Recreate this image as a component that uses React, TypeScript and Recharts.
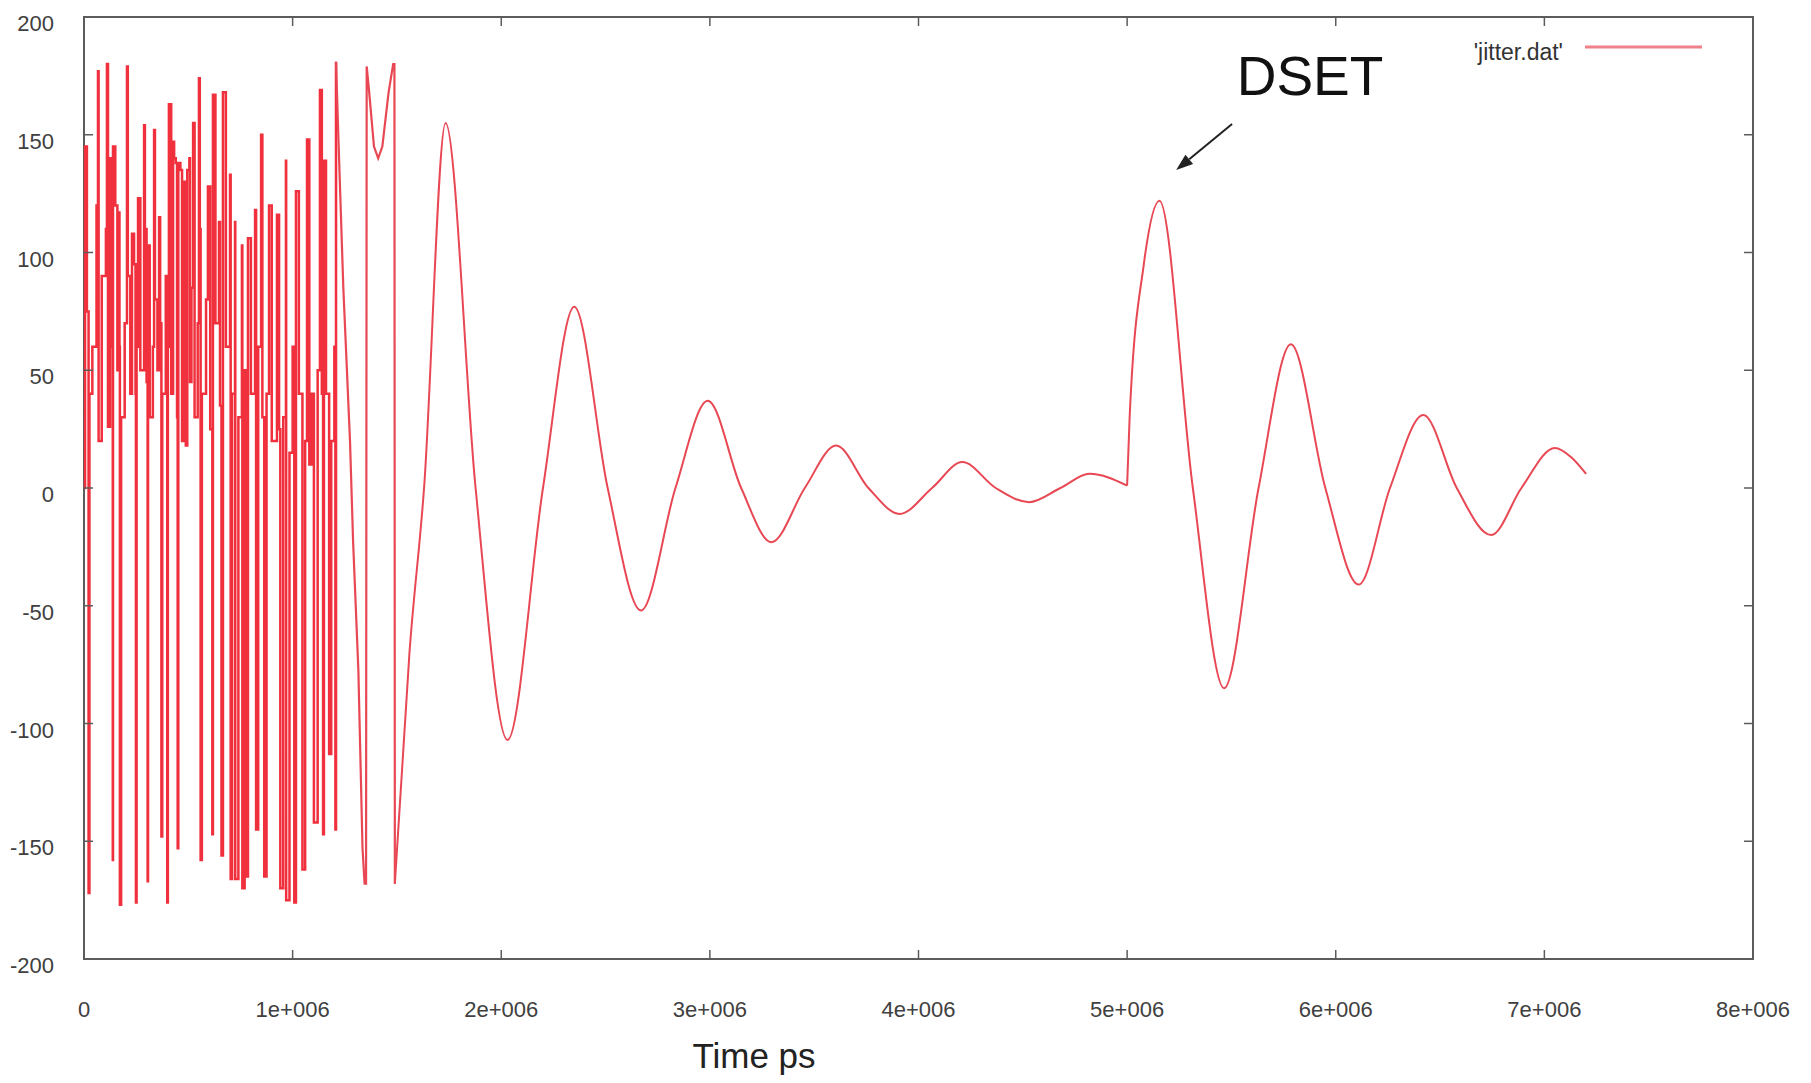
import { LineChart, Line, XAxis, YAxis, ReferenceArea, ReferenceLine } from "recharts";

// time is in units of 1e6 ps, jitter in ps
// the locking burst: phase wraps around +-180, read stroke by stroke
const burst: [number, number][] = [
  [0, 0], [0.003, 0], [0.005, 145], [0.012, 145], [0.014, 75], [0.02, 75],
  [0.022, -172], [0.026, 40], [0.04, 60], [0.06, 120], [0.067, 177], [0.07, 20],
  [0.085, 90], [0.105, 110], [0.11, 180], [0.115, 26], [0.125, 140], [0.135, 60],
  [0.138, -158], [0.139, 145], [0.15, 120], [0.16, 50], [0.168, 117], [0.17, 60],
  [0.172, -177], [0.178, 30], [0.195, 70], [0.206, 179], [0.21, 90], [0.222, 40],
  [0.23, 108], [0.24, 95], [0.247, 40], [0.249, -176], [0.252, 60], [0.259, 123],
  [0.27, 50], [0.288, 154], [0.292, 110], [0.3, 45], [0.305, -167], [0.307, 103],
  [0.315, 30], [0.33, 60], [0.336, 152], [0.34, 80], [0.352, 50], [0.36, 115],
  [0.365, 70], [0.371, -148], [0.375, 40], [0.392, 90], [0.399, -176], [0.402, 60],
  [0.407, 163], [0.418, 40], [0.427, 147], [0.432, 140], [0.44, 138], [0.446, 30],
  [0.449, -153], [0.452, 138], [0.462, 135], [0.47, 20], [0.476, 130], [0.488, 18],
  [0.495, 135], [0.505, 140], [0.508, 45], [0.515, 85], [0.523, 155], [0.53, 30],
  [0.545, 70], [0.551, 174], [0.555, 110], [0.559, -158], [0.565, 40], [0.585, 80],
  [0.594, 128], [0.605, 25], [0.615, -147], [0.618, 167], [0.63, 70], [0.647, 113],
  [0.652, 35], [0.659, -156], [0.666, 168], [0.68, 60], [0.7, 133], [0.703, -166],
  [0.71, 40], [0.724, 113], [0.725, -166], [0.74, 30], [0.757, 103], [0.759, -170],
  [0.77, 50], [0.781, -165], [0.786, 106], [0.8, 40], [0.82, 118], [0.825, -145],
  [0.835, 60], [0.849, 150], [0.855, 30], [0.864, -165], [0.875, 40], [0.887, 120],
  [0.9, 20], [0.925, 116], [0.935, 25], [0.941, -170], [0.955, 30], [0.968, 139],
  [0.969, -175], [0.985, 15], [1.0, 60], [1.008, -176], [1.016, 126], [1.03, 40],
  [1.047, -162], [1.06, 20], [1.069, 148], [1.08, 10], [1.09, 40], [1.102, -142],
  [1.12, 50], [1.131, 169], [1.14, 40], [1.146, -147], [1.15, 139], [1.16, 40],
  [1.175, -113], [1.185, 20], [1.2, 60], [1.205, -145], [1.208, 181],
];

// last two slips before the loop settles
const burstTail: [number, number][] = [
  [1.208, 181], [1.22, 147], [1.243, 85], [1.275, 20], [1.29, -23], [1.315, -77],
  [1.335, -153], [1.345, -168], [1.352, -168], [1.355, 179], [1.365, 170],
  [1.39, 145], [1.41, 140], [1.43, 145], [1.46, 168], [1.482, 180], [1.488, 180],
  [1.49, -168],
];

// first ring-down after lock
const ringdownA: [number, number][] = [
  [1.49, -168], [1.56, -70], [1.63, 0], [1.733, 155], [1.877, 0], [2.03, -107],
  [2.2, 0], [2.35, 77], [2.51, 0], [2.67, -52], [2.835, 0], [2.99, 37],
  [3.15, 0], [3.295, -23], [3.455, 0], [3.605, 18], [3.76, 0], [3.91, -11],
  [4.065, 0], [4.21, 11], [4.37, 0], [4.53, -6], [4.68, 0], [4.82, 6], [5.0, 1],
];

// ring-down after the DSET event
const ringdownB: [number, number][] = [
  [5.0, 1], [5.012, 30], [5.08, 95], [5.155, 122], [5.315, 0], [5.465, -85],
  [5.63, 0], [5.785, 61], [5.95, 0], [6.11, -41], [6.26, 0], [6.42, 31],
  [6.58, 0], [6.745, -20], [6.89, 0], [7.05, 17], [7.13, 13], [7.2, 6],
];

const xTicks = [0, 1, 2, 3, 4, 5, 6, 7, 8];
const yTicks = [-200, -150, -100, -50, 0, 50, 100, 150, 200];
const dsetArrow = [
  { x: 5.503, y: 154.6 },
  { x: 5.235, y: 135 },
];

const toRows = (pts: [number, number][]) => pts.map(([t, v]) => ({ t, v }));

const W = 1811;
const H = 1083;
const PLOT = { left: 84, right: 1753, top: 17, bottom: 959 };
const TICK_LEN = 9;
const FONT = '"Liberation Sans", Arial, sans-serif';
const GREY = "#5c5c5c";
const RED = "#f0303c";
const RED_SOFT = "#e84854";

function XTick({ x, payload }: any) {
  const v = payload.value;
  return (
    <g>
      <line x1={x} x2={x} y1={PLOT.bottom} y2={PLOT.bottom - TICK_LEN} stroke={GREY} strokeWidth={1.5} />
      <line x1={x} x2={x} y1={PLOT.top} y2={PLOT.top + TICK_LEN} stroke={GREY} strokeWidth={1.5} />
      <text x={x} y={1017} textAnchor="middle" fontSize={22} fill="#404040" fontFamily={FONT}>
        {v === 0 ? "0" : `${v}e+006`}
      </text>
    </g>
  );
}

function YTick({ y, payload }: any) {
  return (
    <g>
      <line x1={PLOT.left} x2={PLOT.left + TICK_LEN} y1={y} y2={y} stroke={GREY} strokeWidth={1.5} />
      <line x1={PLOT.right} x2={PLOT.right - TICK_LEN} y1={y} y2={y} stroke={GREY} strokeWidth={1.5} />
      <text x={54} y={y + 14} textAnchor="end" fontSize={22} fill="#404040" fontFamily={FONT}>
        {payload.value}
      </text>
    </g>
  );
}

function DsetArrow(props: any) {
  const { x1, y1, x2, y2 } = props;
  const dx = x2 - x1;
  const dy = y2 - y1;
  const len = Math.sqrt(dx * dx + dy * dy);
  const ux = dx / len;
  const uy = dy / len;
  const hl = 17;
  const hw = 6;
  const bx = x2 - ux * hl;
  const by = y2 - uy * hl;
  return (
    <g>
      <line x1={x1} y1={y1} x2={bx} y2={by} stroke="#222" strokeWidth={2} />
      <polygon
        points={`${x2},${y2} ${bx - uy * hw},${by + ux * hw} ${bx + uy * hw},${by - ux * hw}`}
        fill="#222"
      />
      <text x={x1 + 78} y={y1 - 29} textAnchor="middle" fontSize={55} fill="#111" fontFamily={FONT}>
        DSET
      </text>
    </g>
  );
}

export default function App() {
  return (
    <div style={{ position: "absolute", left: 0, top: 0, width: W, height: H, background: "#fff" }}>
      <LineChart
        width={W}
        height={H}
        margin={{ top: PLOT.top, right: W - PLOT.right, bottom: H - PLOT.bottom - 60, left: PLOT.left - 70 }}
      >
        <XAxis
          type="number"
          dataKey="t"
          domain={[0, 8]}
          ticks={xTicks}
          interval={0}
          height={60}
          axisLine={false}
          tickLine={false}
          tickSize={0}
          tick={<XTick />}
          label={{
            content: () => (
              <text x={754} y={1068} textAnchor="middle" fontSize={35} fill="#222" fontFamily={FONT}>
                Time ps
              </text>
            ),
          }}
        />
        <YAxis
          type="number"
          domain={[-200, 200]}
          ticks={yTicks}
          interval={0}
          width={70}
          axisLine={false}
          tickLine={false}
          tickSize={0}
          tick={<YTick />}
        />
        <ReferenceArea x1={0} x2={8} y1={-200} y2={200} fill="none" stroke={GREY} strokeWidth={2} ifOverflow="visible" />
        <Line
          data={toRows(burst)}
          dataKey="v"
          type="stepAfter"
          stroke={RED}
          strokeWidth={2.5}
          dot={false}
          isAnimationActive={false}
        />
        <Line
          data={toRows(burstTail)}
          dataKey="v"
          type="linear"
          stroke={RED_SOFT}
          strokeWidth={2.2}
          dot={false}
          isAnimationActive={false}
        />
        <Line
          data={toRows(ringdownA)}
          dataKey="v"
          type="monotone"
          stroke={RED_SOFT}
          strokeWidth={2}
          dot={false}
          isAnimationActive={false}
        />
        <Line
          data={toRows(ringdownB)}
          dataKey="v"
          type="monotone"
          stroke={RED_SOFT}
          strokeWidth={2}
          dot={false}
          isAnimationActive={false}
        />
        <ReferenceLine segment={dsetArrow} ifOverflow="visible" shape={DsetArrow} />
      </LineChart>
      <svg width={W} height={H} style={{ position: "absolute", left: 0, top: 0, pointerEvents: "none" }}>
        <text x={1563} y={60} textAnchor="end" fontSize={23} fill="#333" fontFamily={FONT}>
          'jitter.dat'
        </text>
        <line x1={1585} x2={1702} y1={47} y2={47} stroke="#f0808a" strokeWidth={3} />
      </svg>
    </div>
  );
}
